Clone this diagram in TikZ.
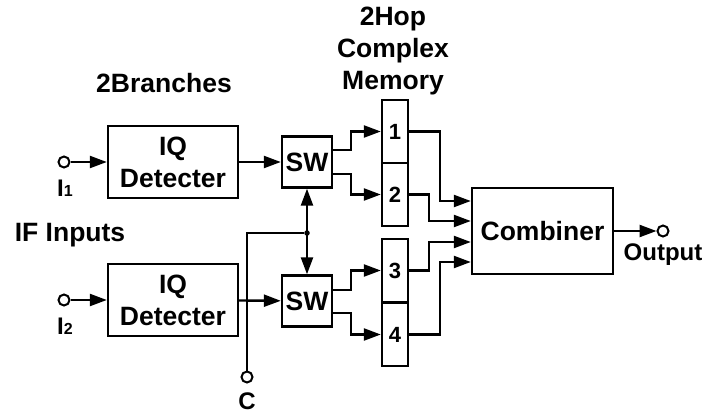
\documentclass[tikz,border=0pt]{standalone}
\usepackage{fontspec}
\setmainfont{Liberation Sans}
\usepackage{tikz}
\usetikzlibrary{arrows.meta,positioning}
\newcommand{\blockfont}{\fontsize{26.5}{32}\selectfont\bfseries}
\newcommand{\cellfont}{\fontsize{22}{24}\selectfont\bfseries}
\newcommand{\termfont}{\fontsize{24}{26}\selectfont\bfseries}
\tikzset{
  blockbox/.style={rectangle, draw=black, line width=2.4pt, align=center, font=\blockfont,
    inner sep=0pt},
  detbox/.style={blockbox, minimum width=130pt, minimum height=72pt},
  swbox/.style={blockbox, minimum width=50pt, minimum height=51pt},
  cellbox/.style={rectangle, draw=black, line width=2.4pt, minimum width=26pt, minimum height=63pt,
    font=\cellfont, inner sep=0pt},
  terminal/.style={circle, draw=black, fill=white, line width=2pt, minimum size=11pt, inner sep=0pt},
  junction/.style={circle, fill=black, minimum size=5.5pt, inner sep=0pt},
  figlabel/.style={font=\blockfont, align=center, inner sep=0pt},
  termlabel/.style={font=\termfont, inner sep=0pt},
  wire/.style={draw=black, line width=2.4pt},
  sig/.style={-{Triangle[length=17pt,width=12pt]}, wire},
  dualsig/.style={{Triangle[length=17pt,width=12pt]}-{Triangle[length=17pt,width=12pt]}, wire},
}
\begin{document}
\begin{tikzpicture}[x=1pt,y=-1pt]
  \useasboundingbox (0,0) rectangle (710,415);

  % --- Branch blocks ---
  \node[detbox] (det1) at (173,162) {IQ\\Detecter};
  \node[detbox] (det2) at (173,300) {IQ\\Detecter};
  \node[swbox] (sw1) at (307,162) {SW};
  \node[swbox] (sw2) at (307,301) {SW};

  % --- 2Hop complex memory ---
  \node[cellbox] (mem1) at (395,131.5) {1};
  \node[cellbox] (mem2) at (395,194.5) {2};
  \node[cellbox] (mem3) at (395,270.5) {3};
  \node[cellbox] (mem4) at (395,334.5) {4};

  \node[blockbox, minimum width=141pt, minimum height=86pt] (comb) at (542.5,231) {Combiner};

  % --- Terminals ---
  \node[terminal] (in1) at (64,162) {};
  \node[terminal] (in2) at (64,300) {};
  \node[terminal] (ctl) at (247,377) {};
  \node[terminal] (out) at (663,231) {};
  \node[junction] (junc) at (307,233) {};

  % --- Labels ---
  \node[figlabel] (brlabel) at (164,83) {2Branches};
  \node[figlabel] (memlabel) at (393,51) {2Hop\\Complex\\Memory};
  \node[figlabel] (iflabel) at (70,235) {IF Inputs};
  \node[termlabel] (in1label) at (65,188) {I{\fontsize{16}{16}\selectfont 1}};
  \node[termlabel] (in2label) at (65,326) {I{\fontsize{16}{16}\selectfont 2}};
  \node[termlabel] (ctllabel) at (247,401) {C};
  \node[termlabel] (outlabel) at (663,255) {Output};

  % --- Signal paths ---
  \draw[sig] (in1) -- (det1);
  \draw[sig] (in2) -- (det2);
  \draw[sig] (det1) -- (sw1);
  \draw[sig] (det2) -- (sw2);
  \draw[wire] (ctl) |- (junc);
  \draw[dualsig] (sw1) -- (sw2);

  \draw[sig] ([yshift=12pt]sw1.east) -- ++(18,0) |- (mem1.west);
  \draw[sig] ([yshift=-12pt]sw1.east) -- ++(18,0) |- (mem2.west);
  \draw[sig] ([yshift=11pt]sw2.east) -- ++(18,0) |- (mem3.west);
  \draw[sig] ([yshift=-12pt]sw2.east) -- ++(18,0) |- (mem4.west);

  \draw[sig] (mem1.east) -- ++(31,0) |- ([yshift=30pt]comb.west);
  \draw[sig] (mem2.east) -- ++(20,0) |- ([yshift=10pt]comb.west);
  \draw[sig] (mem3.east) -- ++(20,0) |- ([yshift=-11pt]comb.west);
  \draw[sig] (mem4.east) -- ++(31,0) |- ([yshift=-31pt]comb.west);

  \draw[sig] (comb) -- (out);
\end{tikzpicture}
\end{document}
